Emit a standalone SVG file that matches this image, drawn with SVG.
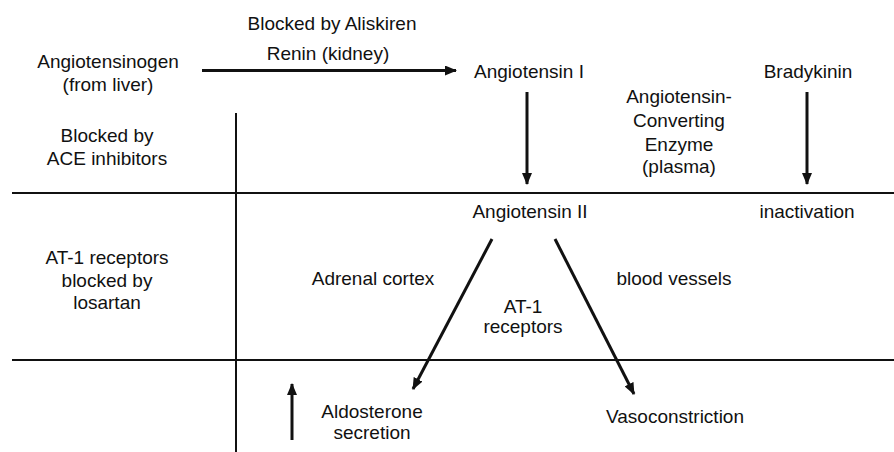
<svg xmlns="http://www.w3.org/2000/svg" width="894" height="452" viewBox="0 0 894 452">
<style>
text{font-family:"Liberation Sans",Arial,Helvetica,sans-serif;font-size:19px;fill:#111;text-anchor:middle}
.rule{stroke:#111;stroke-width:2;fill:none}
.arr{stroke:#111;stroke-width:3;fill:none;marker-end:url(#ah)}
</style>
<defs>
<marker id="ah" markerUnits="userSpaceOnUse" markerWidth="12" markerHeight="10" refX="11" refY="5" orient="auto">
<path d="M0,0 L12,5 L0,10 z" fill="#111"/>
</marker>
</defs>
<rect width="894" height="452" fill="#fff"/>
<g id="grid">
<line class="rule" x1="12" y1="193" x2="894" y2="193"/>
<line class="rule" x1="12" y1="360" x2="894" y2="360"/>
<line class="rule" x1="236" y1="113" x2="236" y2="452"/>
</g>
<g id="connectors">
<line class="arr" x1="202" y1="70.5" x2="456" y2="70.5"/>
<line class="arr" x1="527" y1="92" x2="527" y2="184"/>
<line class="arr" x1="807" y1="92" x2="807" y2="184"/>
<line class="arr" x1="492" y1="239" x2="413" y2="389"/>
<line class="arr" x1="555" y1="239" x2="634" y2="394"/>
<line class="arr" x1="292" y1="440" x2="292" y2="384"/>
</g>
<g id="angiotensinogen"><text x="108" y="68">Angiotensinogen</text><text x="108" y="91">(from liver)</text></g>
<g id="renin"><text x="332" y="30">Blocked by Aliskiren</text><text x="328" y="60">Renin (kidney)</text></g>
<g id="angiotensin1"><text x="529" y="78">Angiotensin I</text></g>
<g id="bradykinin"><text x="808" y="78">Bradykinin</text></g>
<g id="ace"><text x="679" y="103">Angiotensin-</text><text x="679" y="127">Converting</text><text x="679" y="151">Enzyme</text><text x="679" y="173">(plasma)</text></g>
<g id="ace-block"><text x="107" y="142">Blocked by</text><text x="107" y="165">ACE inhibitors</text></g>
<g id="angiotensin2"><text x="530" y="218">Angiotensin II</text></g>
<g id="inactivation"><text x="807" y="218">inactivation</text></g>
<g id="at1-block"><text x="107" y="264">AT-1 receptors</text><text x="107" y="287">blocked by</text><text x="107" y="309">losartan</text></g>
<g id="adrenal"><text x="373" y="285">Adrenal cortex</text></g>
<g id="vessels"><text x="674" y="285">blood vessels</text></g>
<g id="at1"><text x="523" y="313">AT-1</text><text x="523" y="333">receptors</text></g>
<g id="aldosterone"><text x="372" y="418">Aldosterone</text><text x="372" y="439">secretion</text></g>
<g id="vasoconstriction"><text x="675" y="423">Vasoconstriction</text></g>
</svg>
